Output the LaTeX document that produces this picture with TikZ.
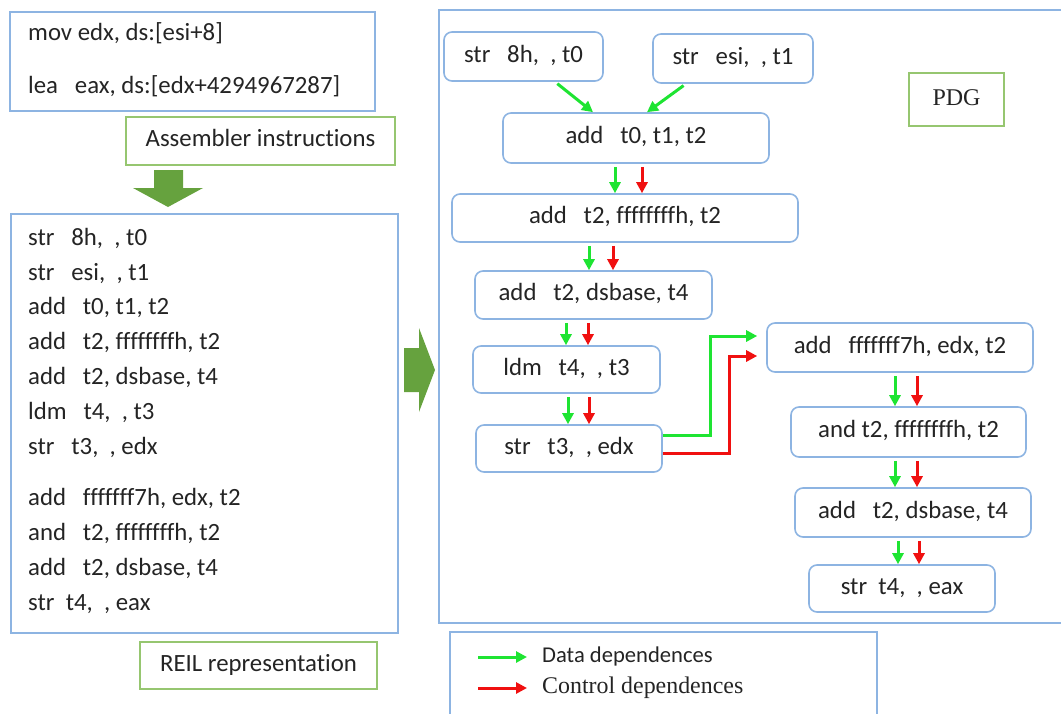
\documentclass[tikz,border=0pt]{standalone}
\usepackage{fontspec}
\setmainfont{Carlito}[Ligatures=NoCommon]
\newfontfamily\timesface{Liberation Serif}
\usetikzlibrary{arrows.meta}

\definecolor{boxblue}{RGB}{141,180,226}
\definecolor{lblgreen}{RGB}{150,198,112}
\definecolor{depgreen}{RGB}{30,228,50}
\definecolor{depred}{RGB}{240,16,16}
\definecolor{arrowgreen}{RGB}{102,162,62}
\definecolor{inktext}{RGB}{36,36,36}

\begin{document}
\begin{tikzpicture}[x=1pt,y=-1pt,
  font=\fontsize{24.8}{30}\selectfont, text=inktext,
  every node/.style={inner sep=0pt, text height=16pt, text depth=5pt},
  op/.style={draw=boxblue, line width=1.6pt, rounded corners=8pt, fill=white},
  tag/.style={draw=lblgreen, line width=1.6pt, fill=white},
  frame/.style={draw=boxblue, line width=1.6pt},
  dat/.style={draw=depgreen, line width=3pt, -{Triangle[length=11pt,width=11pt]}},
  ctl/.style={dat, draw=depred},
  bigarrow/.style={fill=arrowgreen}]
 \useasboundingbox (0,0) rectangle (1061,713);
 \clip (0,0) rectangle (1061,713);

 % left column: assembler code and its REIL translation
 \draw[frame] (10,12) rectangle (375,111);
 \node[anchor=west] (mov) at (28,35) {mov edx, ds:[esi+8]};
 \node[anchor=west] (lea) at (28,88) {lea~~~eax, ds:[edx+4294967287]};
 \node[tag, minimum width=269pt, minimum height=48pt] (asmlbl) at (260.5,141) {Assembler instructions};
 \fill[bigarrow] (154,170) -- (183,170) -- (183,188) -- (203,188) -- (168,207) -- (133,188) -- (154,188) -- cycle;

 \draw[frame] (11,214) rectangle (398,633);
 \foreach \y/\t in {240/{str~~~8h,~~, t0}, 275/{str~~~esi,~~, t1}, 309/{add~~~t0, t1, t2},
   344/{add~~~t2, ffffffffh, t2}, 379/{add~~~t2, dsbase, t4}, 414/{ldm~~~t4,~~, t3},
   449/{str~~~t3,~~, edx}, 500/{add~~~fffffff7h, edx, t2}, 535/{and~~~t2, ffffffffh, t2},
   570/{add~~~t2, dsbase, t4}, 605/{str~~t4,~~, eax}}
  \node[anchor=west] (reil-\y) at (28,\y) {\t};
 \node[tag, minimum width=237pt, minimum height=47pt] (reillbl) at (258.5,665.5) {REIL representation};

 \fill[bigarrow] (404,348) -- (419,348) -- (419,328) -- (435,370) -- (419,412) -- (419,392) -- (404,392) -- cycle;

 % program dependence graph
 \draw[frame] (439,10) rectangle (1080,623);
 \node[tag, minimum width=95pt, minimum height=53pt, font=\timesface\fontsize{24}{28}\selectfont] (pdglbl) at (956.5,99.5) {PDG};

 \node[op, minimum width=159pt, minimum height=49pt] (s0) at (523.5,56.5) {str~~~8h,~~, t0};
 \node[op, minimum width=160pt, minimum height=49pt] (s1) at (733,58.5) {str~~~esi,~~, t1};
 \node[op, minimum width=266pt, minimum height=50pt] (a0) at (636,138) {add~~~t0, t1, t2};
 \node[op, minimum width=346pt, minimum height=48pt] (a1) at (625,218) {add~~~t2, ffffffffh, t2};
 \node[op, minimum width=237pt, minimum height=48pt] (a2) at (593.5,295) {add~~~t2, dsbase, t4};
 \node[op, minimum width=187pt, minimum height=47pt] (ldm) at (566.5,369.5) {ldm~~~t4,~~, t3};
 \node[op, minimum width=186pt, minimum height=47pt] (st3) at (569,448.5) {str~~~t3,~~, edx};
 \node[op, minimum width=266pt, minimum height=49pt] (b0) at (900,347.5) {add~~~fffffff7h, edx, t2};
 \node[op, minimum width=235pt, minimum height=50pt] (b1) at (908.5,432) {and t2, ffffffffh, t2};
 \node[op, minimum width=236pt, minimum height=49pt] (b2) at (913,512.5) {add~~~t2, dsbase, t4};
 \node[op, minimum width=186pt, minimum height=47pt] (st4) at (902,588.5) {str~~t4,~~, eax};

 \draw[dat, shorten <=3pt] (s0.south -| 555,0) -- (a0.north -| 593,0);
 \draw[dat, shorten <=3pt] (s1.south -| 686,0) -- (a0.north -| 647,0);
 \foreach \u/\v/\g/\r in {a0/a1/615/642, a1/a2/589/613, a2/ldm/566/588, ldm/st3/568/589,
   b0/b1/895/917, b1/b2/895/917, b2/st4/898/919} {
  \draw[dat, shorten <=3pt] (\u.south -| \g,0) -- (\v.north -| \g,0);
  \draw[ctl, shorten <=3pt] (\u.south -| \r,0) -- (\v.north -| \r,0);
 }
 \draw[dat, shorten >=9pt] (st3.east |- 0,435) -| (710,336) -- (b0.west |- 0,336);
 \draw[ctl, shorten >=9pt] (st3.east |- 0,453) -| (729,356) -- (b0.west |- 0,356);

 % legend
 \draw[frame] (450,632) rectangle (877,730);
 \node[anchor=west, font=\fontsize{22.6}{27}\selectfont] (ldat) at (542,657) {Data dependences};
 \node[anchor=west, font=\timesface\fontsize{23.9}{28}\selectfont] (lctl) at (542,688) {Control dependences};
 \coordinate (dtail) at (478,657);
 \coordinate (ctail) at (478,688);
 \draw[dat, shorten >=15pt] (dtail) -- (ldat.west);
 \draw[ctl, shorten >=15pt] (ctail) -- (lctl.west);
\end{tikzpicture}
\end{document}
